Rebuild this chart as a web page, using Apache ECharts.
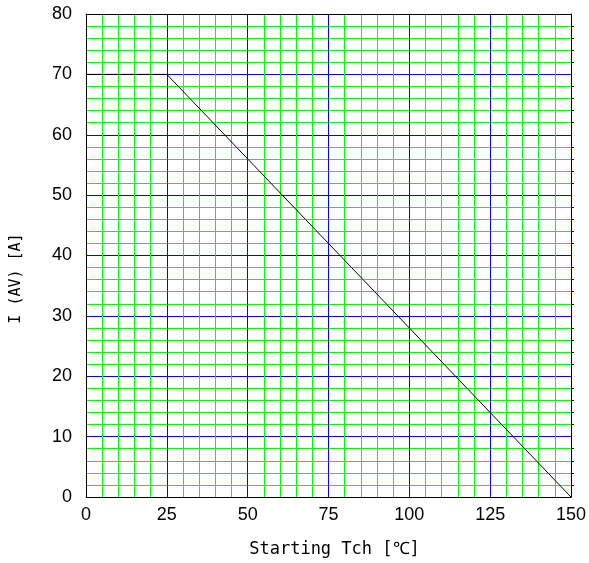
<!DOCTYPE html>
<html><head><meta charset="utf-8">
<script src="https://cdn.jsdelivr.net/npm/echarts@6/dist/echarts.min.js"></script>
<style>html,body{margin:0;padding:0;background:#fff}#c{width:589px;height:563px}</style>
</head><body><div id="c"></div>
<script>
const xValues = [0, 25, 150];
const yValues = [70, 70, 0];
const xTicks = [0, 25, 50, 75, 100, 125, 150];
const yTicks = [0, 10, 20, 30, 40, 50, 60, 70, 80];
const xTitle = 'Starting Tch [℃]';
const yTitle = 'I (AV) [A]';

const chart = echarts.init(document.getElementById('c'), null, {renderer: 'canvas'});
const labelFont = () => ({fontFamily: 'Liberation Sans Narrow, Arial Narrow, Liberation Sans, sans-serif', fontSize: 18, color: '#000'});
const majorLine = () => ({show: true, lineStyle: {color: '#0000ff', width: 1, type: 'solid'}});
const minorLine = () => ({show: true, lineStyle: {color: '#00ff00', width: 1, type: 'solid'}});
const frame = () => ({show: true, onZero: false, lineStyle: {color: '#000', width: 1}});
chart.setOption({
  animation: false,
  grid: {left: 86, right: 18, top: 14, bottom: 66},
  xAxis: [{
    type: 'value', min: xTicks[0], max: xTicks[xTicks.length-1], interval: 25,
    axisLine: frame(), axisTick: {show: false},
    axisLabel: Object.assign({margin: 9}, labelFont()),
    splitLine: majorLine(),
    minorTick: {show: false, splitNumber: 5},
    minorSplitLine: minorLine(),
    name: xTitle, nameLocation: 'middle', nameGap: 44,
    nameTextStyle: {fontFamily: 'DejaVu Sans Mono, monospace', fontSize: 17, color: '#000', padding: [0, 0, 0, 12]}
  }, {
    type: 'value', position: 'top', min: xTicks[0], max: xTicks[xTicks.length-1], interval: 25,
    axisLine: frame(), axisTick: {show: false}, axisLabel: {show: false},
    splitLine: {show: false}, minorSplitLine: {show: false}
  }],
  yAxis: [{
    type: 'value', min: yTicks[0], max: yTicks[yTicks.length-1], interval: 10,
    axisLine: frame(), axisTick: {show: false},
    axisLabel: Object.assign({margin: 14}, labelFont()),
    splitLine: majorLine(),
    minorTick: {show: false, splitNumber: 5},
    minorSplitLine: minorLine(),
    name: yTitle, nameLocation: 'middle', nameGap: 62, nameRotate: 90,
    nameTextStyle: {fontFamily: 'DejaVu Sans Mono, monospace', fontSize: 15, color: '#000', padding: [0, 46, 0, 0]}
  }, {
    type: 'value', position: 'right', min: yTicks[0], max: yTicks[yTicks.length-1], interval: 10,
    axisLine: frame(), axisTick: {show: false}, axisLabel: {show: false},
    splitLine: {show: false}, minorSplitLine: {show: false},
    minorTick: {show: true, splitNumber: 5, length: 3, lineStyle: {color: '#000'}}
  }],
  series: [{
    type: 'line', data: xValues.map((x, i) => [x, yValues[i]]),
    showSymbol: false, symbol: 'none',
    lineStyle: {color: '#000', width: 1}, z: 10
  }]
});
</script></body></html>
